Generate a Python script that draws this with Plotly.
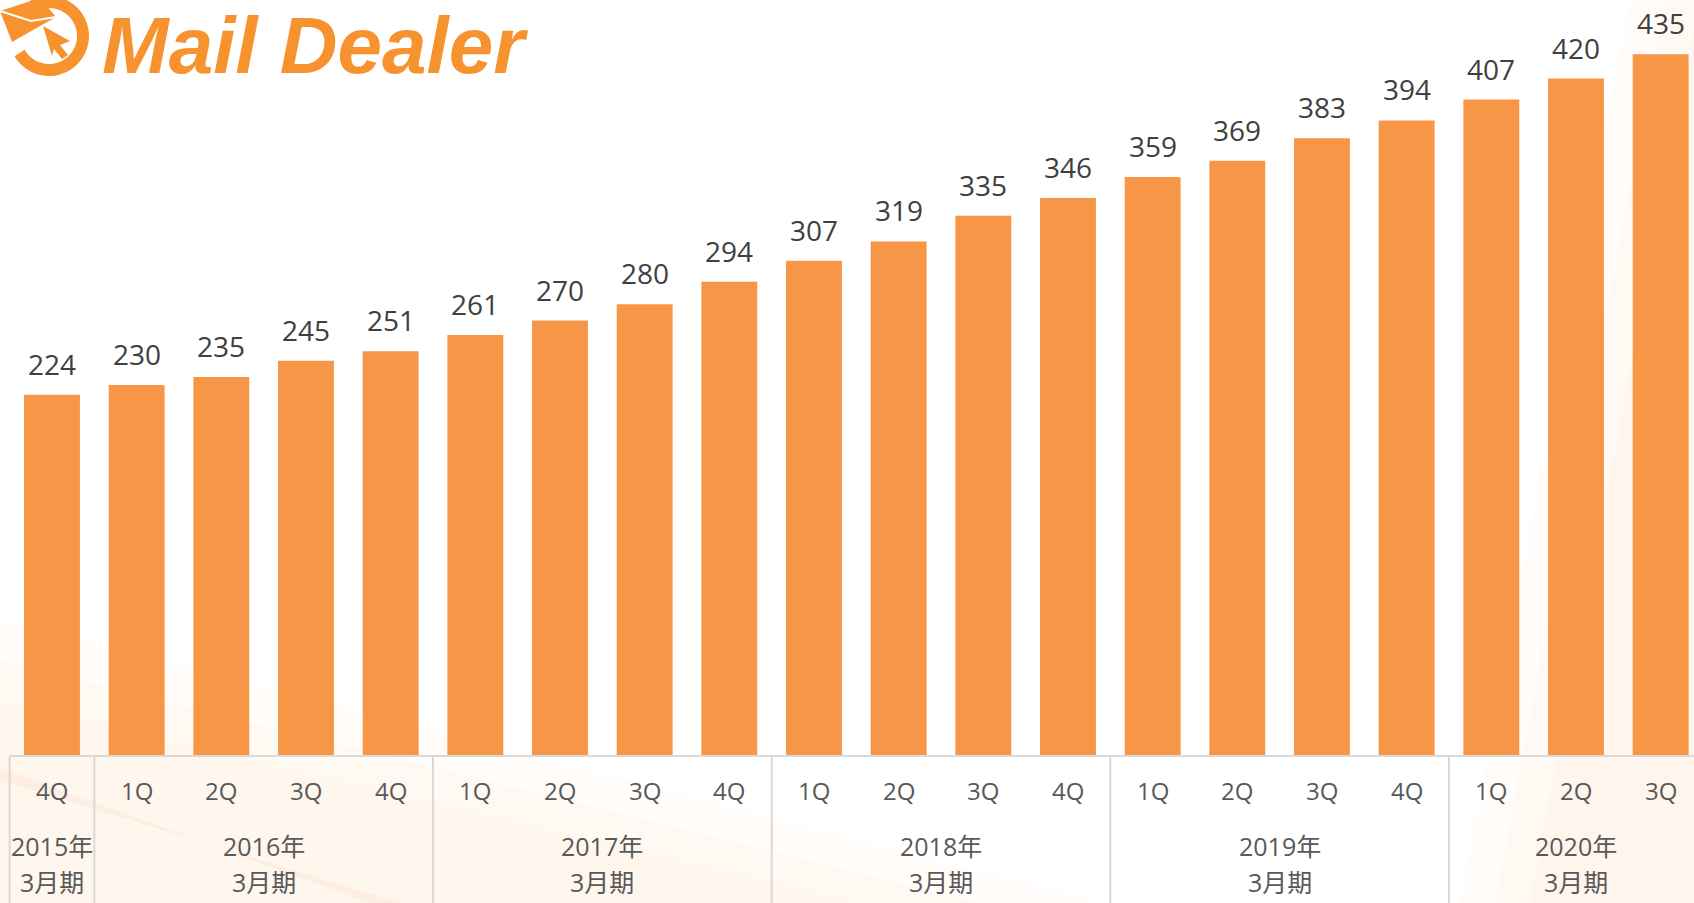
import math
import plotly.graph_objs as go

# data
quarters = ['4Q', '1Q', '2Q', '3Q', '4Q', '1Q', '2Q', '3Q', '4Q', '1Q',
            '2Q', '3Q', '4Q', '1Q', '2Q', '3Q', '4Q', '1Q', '2Q', '3Q']
values = [224, 230, 235, 245, 251, 261, 270, 280, 294, 307,
          319, 335, 346, 359, 369, 383, 394, 407, 420, 435]
year_labels = ['2015年', '2016年', '2017年', '2018年', '2019年', '2020年']
year_sizes = [1, 4, 4, 4, 4, 3]

W, H = 1694, 903
PLOT_H = 756
XR = [-0.614, 19.394]
YR = [0, 468.7]

orange = '#F79646'
logo_orange = '#F7932F'
font_fam = 'Open Sans, Noto Sans CJK JP, sans-serif'


def px(xval):
    # data x -> paper x
    return (xval - XR[0]) / (XR[1] - XR[0])


def pxp(p):
    # pixel x -> paper x
    return p / W


def pyp(p):
    # pixel y -> paper y
    return 1 - p / PLOT_H


def poly(pts, fill, layer='below'):
    d = 'M ' + ' L '.join('%f,%f' % (pxp(a), pyp(b)) for a, b in pts) + ' Z'
    return dict(type='path', xref='paper', yref='paper', path=d,
                fillcolor=fill, line=dict(width=0), layer=layer)


idx = list(range(len(values)))

fig = go.Figure()
fig.add_trace(go.Bar(x=idx, y=values, width=0.66,
                     marker=dict(color=orange, line=dict(width=0)),
                     hoverinfo='y'))

annotations = []
# value labels
for i, v in zip(idx, values):
    annotations.append(dict(x=i, y=v, xref='x', yref='y', text=str(v),
                            showarrow=False, yanchor='middle', yshift=31,
                            font=dict(size=28, color='#404040', family=font_fam)))
# quarter labels
for i, q in zip(idx, quarters):
    annotations.append(dict(x=i, y=0, xref='x', yref='paper', text=q,
                            showarrow=False, yanchor='middle', yshift=-34,
                            font=dict(size=24, color='#595959', family=font_fam)))

shapes = []
# year group labels and separators
start = 0
seps = [-0.5]
for lab, n in zip(year_labels, year_sizes):
    centre = start + (n - 1) / 2
    annotations.append(dict(x=centre, y=0, xref='x', yref='paper', text=lab,
                            showarrow=False, yanchor='middle', yshift=-90,
                            font=dict(size=25, color='#595959', family=font_fam)))
    annotations.append(dict(x=centre, y=0, xref='x', yref='paper', text='3月期',
                            showarrow=False, yanchor='middle', yshift=-126,
                            font=dict(size=25, color='#595959', family=font_fam)))
    start += n
    seps.append(start - 0.5)

for s in seps:
    if s > XR[1]:
        continue
    shapes.append(dict(type='line', xref='paper', yref='paper',
                       x0=px(s), x1=px(s), y0=0, y1=pyp(H + 5),
                       line=dict(color='#D9D9D9', width=2)))
shapes.append(dict(type='line', xref='paper', yref='paper',
                   x0=px(-0.5), x1=1, y0=0, y1=0,
                   line=dict(color='#D9D9D9', width=2)))

# faint background streaks (soft, layered)
for k, a in enumerate([0.10, 0.10, 0.10]):
    off = k * 40
    shapes.append(poly([(0, 620 + off), (0, H), (1100 - off * 3, H)],
                       'rgba(252,222,195,%.2f)' % a))
shapes.append(poly([(0, 768), (0, 780), (400, H), (370, H)], 'rgba(248,210,180,0.20)'))
for k, a in enumerate([0.10, 0.10, 0.12]):
    off = k * 35
    shapes.append(poly([(1460 + off, H), (W, H), (W, 0), (1630 + off, 0)],
                       'rgba(252,222,195,%.2f)' % a))

# logo icon: ring + envelope + cursor
ring = []
cx, cy, r = 49, 36, 34
for k in range(0, 61):
    a = math.radians(-150 + k * 4.5)
    ring.append((cx + r * math.cos(a), cy - r * math.sin(a)))
d = 'M ' + ' L '.join('%f,%f' % (pxp(a), pyp(b)) for a, b in ring)
shapes.append(dict(type='path', xref='paper', yref='paper', path=d,
                   line=dict(color=logo_orange, width=12)))
shapes.append(poly([(0, 11), (40, -2), (56, 17), (12, 42)], logo_orange, 'above'))
env = 'M %f,%f L %f,%f L %f,%f' % (pxp(0), pyp(11), pxp(31), pyp(21), pxp(56), pyp(17))
shapes.append(dict(type='path', xref='paper', yref='paper', path=env,
                   line=dict(color='white', width=2)))
shapes.append(poly([(43, 26), (70, 41), (60, 45), (68, 55), (62, 59), (54, 49), (52, 56)],
                   logo_orange, 'above'))

annotations.append(dict(x=pxp(100), y=pyp(45), xref='paper', yref='paper',
                        text='<b><i>Mail Dealer</i></b>', showarrow=False,
                        xanchor='left', yanchor='middle',
                        font=dict(size=80, color=logo_orange,
                                  family='Liberation Sans, Arial, sans-serif')))

fig.update_layout(
    width=W, height=H,
    margin=dict(l=0, r=0, t=0, b=H - PLOT_H),
    paper_bgcolor='white',
    plot_bgcolor='rgba(0,0,0,0)',
    showlegend=False,
    xaxis=dict(range=XR, showticklabels=False, showgrid=False, zeroline=False,
               showline=False, ticks=''),
    yaxis=dict(range=YR, showticklabels=False, showgrid=False, zeroline=False,
               showline=False, ticks=''),
    annotations=annotations,
    shapes=shapes,
)

# drop the default 8px page margin so the figure fills the window exactly
fig.write_html("out.html", config={'displayModeBar': False},
               post_script="document.body.style.margin='0';document.body.style.overflow='hidden';")
